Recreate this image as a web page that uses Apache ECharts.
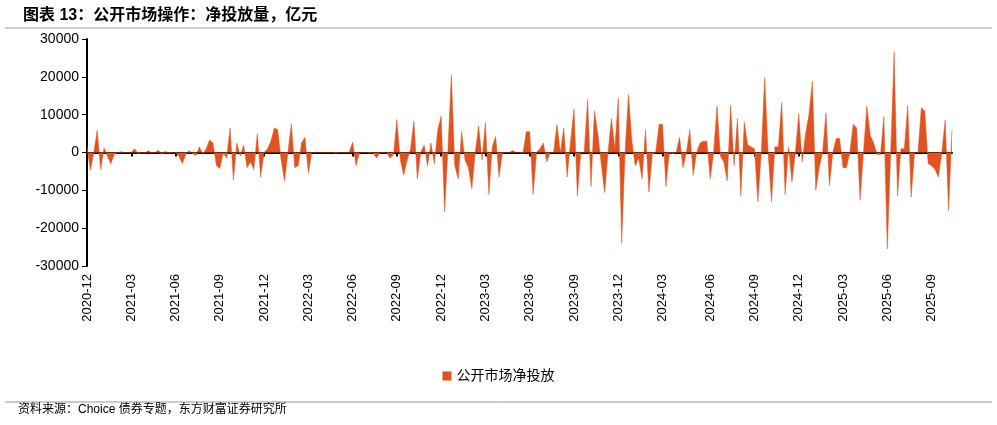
<!DOCTYPE html>
<html>
<head>
<meta charset="utf-8">
<script src="https://cdn.jsdelivr.net/npm/echarts@6/dist/echarts.min.js"></script>
<style>
  html, body { margin: 0; padding: 0; background: #fff; }
  #chart { width: 997px; height: 425px; }
</style>
</head>
<body>
<div id="chart"></div>
<script>
// 周度净投放量（亿元），自 2020-12-04 起，每季度 13 周
var q2021a = [1500, -4700, 0, 5900, -4500, 1200, -1000, -3000, -500, 0, 200, 0, 0];
var q2021b = [0, 1000, -300, 0, -200, 500, -200, 0, 600, -500, 300, -200, 0];
var q2021c = [0, -1000, -2900, -500, 500, -300, -800, 1500, -500, 1000, 3300, 2500, -3500];
var q2021d = [-4200, 0, -1500, 6500, -7300, 2500, -1000, 2000, -4000, -2500, -4500, 5000, -6500];
var q2022a = [0, 1000, 3000, 6500, 6000, -2000, -7500, 0, 7500, -4000, -3500, 2500, 4000];
var q2022b = [-5500, 0, 0, 0, 0, 0, 0, 0, -200, 0, 0, 0, 0];
var q2022c = [2800, -3500, 0, 0, 0, -200, 0, -1500, 0, 0, 0, -1500, -500];
var q2022d = [8600, -2000, -6000, -2000, 1000, 8300, -7000, 0, 2000, -3500, 2500, -3000, 6000];
var q2023a = [9600, -15700, 1000, 20500, -3500, -7000, 5500, -2000, -4000, -9600, 0, 7000, -2000];
var q2023b = [7900, -11100, 1500, 4200, -6500, 0, 0, 0, 500, 0, 0, -300, 5500];
var q2023c = [5500, -11100, 0, 1000, 2500, -2500, 0, 0, 7400, 0, 6500, -6500, 3000];
var q2023d = [11500, -11500, 0, 0, 14000, -9000, 11000, 5000, -3000, -10600, 0, 9000, 1000];
var q2024a = [14300, -24000, 0, 15400, 3000, -3500, -1500, -7000, 6000, -10500, -500, 0, 7500];
var q2024b = [7500, -9000, 0, -300, 0, 4000, -4000, 0, 6000, -6000, 0, 2500, 3000];
var q2024c = [3000, -7000, 0, 12300, -1000, -2500, -7500, 12500, -3500, 9000, -11500, 8000, 2000];
var q2024d = [1500, 1000, -13100, 0, 19800, 0, -13100, 1500, 1500, 13200, -11100, 1500, -7800];
var q2025a = [0, 10300, -2500, 5000, 10000, 18800, -10000, -4000, 0, 10500, -8700, 0, 3700];
var q2025b = [3700, -4000, -4000, 0, 7500, 6500, -12600, 0, 12300, 4500, 2500, -500, -500];
var q2025c = [9500, -25500, 0, 26500, -11500, 1000, 1000, 12400, -11800, 0, 0, 11800, 11000];
var q2025d = [-3000, -3500, -4500, -6500, 0, 8600, -15300, 6000];

var netValues = [].concat(q2021a, q2021b, q2021c, q2021d, q2022a, q2022b, q2022c, q2022d,
    q2023a, q2023b, q2023c, q2023d, q2024a, q2024b, q2024c, q2024d,
    q2025a, q2025b, q2025c, q2025d);
var yTicks = [-30000, -20000, -10000, 0, 10000, 20000, 30000];
var labelMonths = [3, 6, 9, 12];

// 周度日期
var dates = [];
var d = new Date(Date.UTC(2020, 11, 4));
for (var i = 0; i < netValues.length; i++) {
    var m = d.getUTCMonth() + 1;
    dates.push(d.getUTCFullYear() + '-' + (m < 10 ? '0' + m : m));
    d = new Date(d.getTime() + 7 * 86400000);
}
// 每个季末月份第一周显示标签
var showIdx = {};
for (var j = 0; j < dates.length; j++) {
    var mm = parseInt(dates[j].slice(5), 10);
    if (labelMonths.indexOf(mm) >= 0 && (j === 0 || dates[j - 1] !== dates[j])) showIdx[j] = true;
}
function isShown(idx) { return !!showIdx[idx]; }

var chart = echarts.init(document.getElementById('chart'));
var font = 'Arial, "Liberation Sans", "Noto Sans CJK SC", sans-serif';
var option = {
    animation: false,
    textStyle: { fontFamily: font },
    title: {
        text: '图表 13：公开市场操作：净投放量，亿元',
        left: 18, top: 3,
        textStyle: { fontSize: 16, fontWeight: 'bold', color: '#000', fontFamily: font }
    },
    graphic: [
        { type: 'line', shape: { x1: 5, y1: 28, x2: 992, y2: 28 }, style: { stroke: '#999', lineWidth: 1 } },
        { type: 'line', shape: { x1: 5, y1: 402, x2: 992, y2: 402 }, style: { stroke: '#999', lineWidth: 1 } },
        { type: 'text', left: 18, top: 404,
          style: { text: '资料来源：Choice 债券专题，东方财富证券研究所', fontSize: 12, fill: '#000', fontFamily: font } }
    ],
    legend: {
        data: ['公开市场净投放'],
        top: 364, left: 'center',
        icon: 'rect', itemWidth: 9, itemHeight: 9,
        textStyle: { fontSize: 14, color: '#000' }
    },
    grid: { left: 87, right: 45, top: 39, bottom: 159 },
    xAxis: [{
        type: 'category', data: dates, boundaryGap: false,
        axisLine: { onZero: true, lineStyle: { color: '#000', width: 2 } },
        axisTick: { show: true, interval: function (idx) { return isShown(idx); }, length: 4, inside: false, lineStyle: { color: '#000', width: 2 } },
        axisLabel: { show: false }
    }, {
        type: 'category', data: dates, boundaryGap: false, position: 'bottom',
        axisLine: { show: false, onZero: false }, axisTick: { show: false },
        axisLabel: { interval: function (idx) { return isShown(idx); }, rotate: 90, fontSize: 13, color: '#000', margin: 8 }
    }],
    yAxis: {
        type: 'value', min: -30000, max: 30000, interval: 10000,
        axisLine: { show: true, lineStyle: { color: '#000', width: 2 } },
        axisTick: { show: true, length: 5, lineStyle: { color: '#000' } },
        axisLabel: { fontSize: 14, color: '#000', formatter: function (v) { return yTicks.indexOf(v) >= 0 ? String(v) : ''; } },
        splitLine: { show: false }
    },
    series: [{
        name: '公开市场净投放', type: 'line', data: netValues, xAxisIndex: 0,
        symbol: 'none', color: '#E0531F',
        lineStyle: { width: 0.5, color: '#E0531F' },
        areaStyle: { color: '#E0531F', opacity: 1 }
    }]
};
chart.setOption(option);
</script>
</body>
</html>
